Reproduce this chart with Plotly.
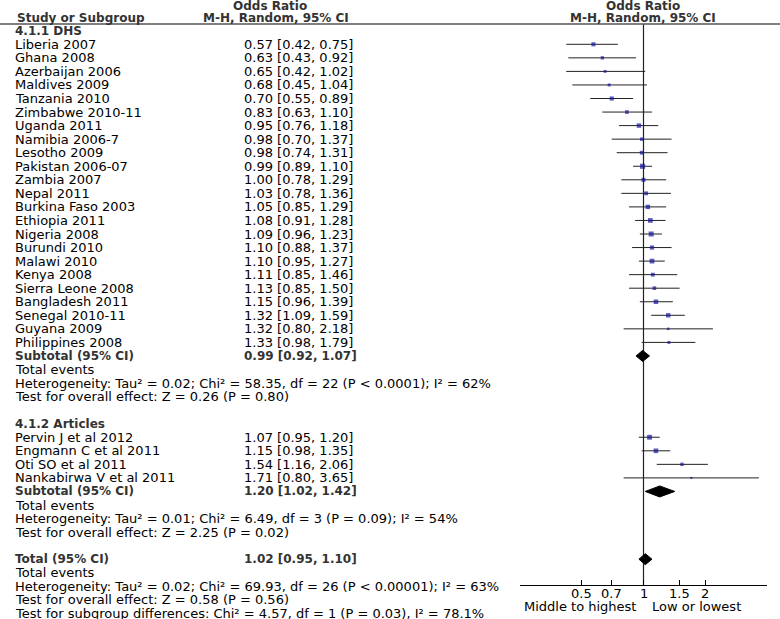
import math
import plotly.graph_objects as go

# ---------------- data ----------------
dhs_studies = ["Liberia 2007", "Ghana 2008", "Azerbaijan 2006", "Maldives 2009", "Tanzania 2010",
               "Zimbabwe 2010-11", "Uganda 2011", "Namibia 2006-7", "Lesotho 2009", "Pakistan 2006-07",
               "Zambia 2007", "Nepal 2011", "Burkina Faso 2003", "Ethiopia 2011", "Nigeria 2008",
               "Burundi 2010", "Malawi 2010", "Kenya 2008", "Sierra Leone 2008", "Bangladesh 2011",
               "Senegal 2010-11", "Guyana 2009", "Philippines 2008"]
dhs_or = [0.57, 0.63, 0.65, 0.68, 0.70, 0.83, 0.95, 0.98, 0.98, 0.99, 1.00, 1.03, 1.05, 1.08, 1.09,
          1.10, 1.10, 1.11, 1.13, 1.15, 1.32, 1.32, 1.33]
dhs_lo = [0.42, 0.43, 0.42, 0.45, 0.55, 0.63, 0.76, 0.70, 0.74, 0.89, 0.78, 0.78, 0.85, 0.91, 0.96,
          0.88, 0.95, 0.85, 0.85, 0.96, 1.09, 0.80, 0.98]
dhs_hi = [0.75, 0.92, 1.02, 1.04, 0.89, 1.10, 1.18, 1.37, 1.31, 1.10, 1.29, 1.36, 1.29, 1.28, 1.23,
          1.37, 1.27, 1.46, 1.50, 1.39, 1.59, 2.18, 1.79]
dhs_w = [4.3, 3.0, 2.3, 2.4, 4.4, 3.6, 4.8, 3.1, 3.8, 6.0, 4.2, 3.9, 4.9, 5.3, 5.8,
         4.5, 5.4, 3.9, 3.6, 5.0, 4.8, 1.8, 2.4]   # estimated weights (%)

art_studies = ["Pervin J et al 2012", "Engmann C et al 2011", "Oti SO et al 2011", "Nankabirwa V et al 2011"]
art_or = [1.07, 1.15, 1.54, 1.71]
art_lo = [0.95, 0.98, 1.16, 0.80]
art_hi = [1.20, 1.35, 2.06, 3.65]
art_w = [5.6, 5.2, 3.2, 1.0]

pooled_labels = ["Subtotal (95% CI)", "Subtotal (95% CI)", "Total (95% CI)"]
pooled_or = [0.99, 1.20, 1.02]
pooled_lo = [0.92, 1.02, 0.95]
pooled_hi = [1.07, 1.42, 1.10]

dhs_footer = ["Total events",
              "Heterogeneity: Tau² = 0.02; Chi² = 58.35, df = 22 (P < 0.0001); I² = 62%",
              "Test for overall effect: Z = 0.26 (P = 0.80)"]
art_footer = ["Total events",
              "Heterogeneity: Tau² = 0.01; Chi² = 6.49, df = 3 (P = 0.09); I² = 54%",
              "Test for overall effect: Z = 2.25 (P = 0.02)"]
tot_footer = ["Total events",
              "Heterogeneity: Tau² = 0.02; Chi² = 69.93, df = 26 (P < 0.00001); I² = 63%",
              "Test for overall effect: Z = 0.58 (P = 0.56)",
              "Test for subgroup differences: Chi² = 4.57, df = 1 (P = 0.03), I² = 78.1%"]

tick_vals = [0.5, 0.7, 1, 1.5, 2]
tick_text = ["0.5", "0.7", "1", "1.5", "2"]
favours_left = "Middle to highest"
favours_right = "Low or lowest"

# ---------------- layout helpers ----------------
W, H = 780, 619
Y0, DY = 44.3, 13.55          # pixel row grid
AXIS_Y = 585
HEAD_LINE_Y = 24
X_TEXT, X_VAL = 13, 242
FONT = "DejaVu Sans"
FS = 13
DARK = "#333333"


def ry(i):
    return Y0 + DY * i


def fmt(o, l, h):
    return f"{o:.2f} [{l:.2f}, {h:.2f}]"


annotations = []


def txt(x, y, s, bold=False, anchor="left", size=FS, color="black", family=FONT):
    if bold:
        s = f"<b>{s}</b>"
    annotations.append(dict(x=x / W, xref="paper", y=y, yref="y", text=s, showarrow=False,
                            xanchor=anchor, yanchor="middle",
                            font=dict(family=family, size=size, color=color)))


# build rows
study_rows = []   # (row_index, or, lo, hi, w)
pooled_rows = []  # row indices for diamonds

r = -1
txt(X_TEXT, ry(r), "4.1.1 DHS", bold=True, color=DARK, size=12)
for name, o, l, h, w in zip(dhs_studies, dhs_or, dhs_lo, dhs_hi, dhs_w):
    r += 1
    txt(X_TEXT, ry(r), name)
    txt(X_VAL, ry(r), fmt(o, l, h))
    study_rows.append((r, o, l, h, w))
r += 1
txt(X_TEXT, ry(r), pooled_labels[0], bold=True, color=DARK, size=12)
txt(X_VAL, ry(r), fmt(pooled_or[0], pooled_lo[0], pooled_hi[0]), bold=True, color=DARK, size=12)
pooled_rows.append(r)
for s in dhs_footer:
    r += 1
    txt(X_TEXT, ry(r), s)
r += 2
txt(X_TEXT, ry(r), "4.1.2 Articles", bold=True, color=DARK, size=12)
for name, o, l, h, w in zip(art_studies, art_or, art_lo, art_hi, art_w):
    r += 1
    txt(X_TEXT, ry(r), name)
    txt(X_VAL, ry(r), fmt(o, l, h))
    study_rows.append((r, o, l, h, w))
r += 1
txt(X_TEXT, ry(r), pooled_labels[1], bold=True, color=DARK, size=12)
txt(X_VAL, ry(r), fmt(pooled_or[1], pooled_lo[1], pooled_hi[1]), bold=True, color=DARK, size=12)
pooled_rows.append(r)
for s in art_footer:
    r += 1
    txt(X_TEXT, ry(r), s)
r += 2
txt(X_TEXT, ry(r), pooled_labels[2], bold=True, color=DARK, size=12)
txt(X_VAL, ry(r), fmt(pooled_or[2], pooled_lo[2], pooled_hi[2]), bold=True, color=DARK, size=12)
pooled_rows.append(r)
for s in tot_footer:
    r += 1
    txt(X_TEXT, ry(r), s)

# headers
HFONT = "DejaVu Sans"
HFS = 12
txt(270, 6, "Odds Ratio", bold=True, anchor="center", size=HFS, color=DARK, family=HFONT)
txt(276, 17.5, "M-H, Random, 95% CI", bold=True, anchor="center", size=HFS, color=DARK, family=HFONT)
txt(643, 6, "Odds Ratio", bold=True, anchor="center", size=HFS, color=DARK, family=HFONT)
txt(643, 17.5, "M-H, Random, 95% CI", bold=True, anchor="center", size=HFS, color=DARK, family=HFONT)
txt(15, 17.5, "Study or Subgroup", bold=True, size=HFS, color=DARK, family=HFONT)

# favours labels
txt(638, 606.5, favours_left, anchor="right")
txt(650, 606.5, favours_right, anchor="left")

# tick labels (log axis -> annotation x in log10 units)
for v, t in zip(tick_vals, tick_text):
    annotations.append(dict(x=math.log10(v), xref="x", y=593.5, yref="y", text=t, showarrow=False,
                            xanchor="center", yanchor="middle",
                            font=dict(family=FONT, size=FS, color="black")))

# ---------------- traces ----------------
fig = go.Figure()

# CI lines
cx, cy = [], []
for (i, o, l, h, w) in study_rows:
    cx += [l, h, None]
    cy += [ry(i), ry(i), None]
fig.add_trace(go.Scatter(x=cx, y=cy, mode="lines", line=dict(color="#222222", width=1),
                         hoverinfo="skip", showlegend=False))

# vertical line of no effect
fig.add_trace(go.Scatter(x=[1, 1], y=[HEAD_LINE_Y, AXIS_Y], mode="lines",
                         line=dict(color="#222222", width=1.2), hoverinfo="skip", showlegend=False))

# point estimates
fig.add_trace(go.Scatter(x=[s[1] for s in study_rows], y=[ry(s[0]) for s in study_rows],
                         mode="markers",
                         marker=dict(symbol="square", color="#14149e",
                                     size=[1.5 + 0.6 * s[4] for s in study_rows],
                                     line=dict(width=0)),
                         hoverinfo="skip", showlegend=False))

# diamonds
HALF = 5.5
for ri, o, l, h in zip(pooled_rows, pooled_or, pooled_lo, pooled_hi):
    yc = ry(ri)
    fig.add_trace(go.Scatter(x=[l, o, h, o, l], y=[yc, yc - HALF, yc, yc + HALF, yc],
                             mode="lines", fill="toself", fillcolor="black",
                             line=dict(color="black", width=1), hoverinfo="skip", showlegend=False))

fig.update_layout(
    width=W, height=H, margin=dict(l=0, r=0, t=0, b=0),
    paper_bgcolor="white", plot_bgcolor="white",
    showlegend=False,
    annotations=annotations,
    shapes=[dict(type="line", xref="paper", yref="y", x0=0, x1=1, y0=HEAD_LINE_Y, y1=HEAD_LINE_Y,
                 line=dict(color="#555555", width=1.5))],
    xaxis=dict(type="log", range=[math.log10(0.25), math.log10(4)],
               domain=[520 / W, 767 / W], anchor="free", position=1 - AXIS_Y / H,
               showline=True, linecolor="black", linewidth=1, ticks="inside", ticklen=5,
               tickcolor="black", tickvals=tick_vals, showticklabels=False,
               showgrid=False, zeroline=False, fixedrange=True),
    yaxis=dict(range=[H, 0], domain=[0, 1], visible=False, showgrid=False, zeroline=False,
               fixedrange=True),
)

fig.write_html("out.html", config={"displayModeBar": False},
               post_script="document.body.style.margin='0px';")
